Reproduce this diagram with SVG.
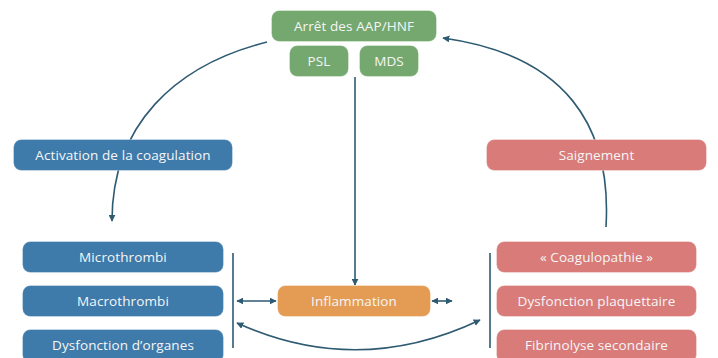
<svg xmlns="http://www.w3.org/2000/svg" width="718" height="358" viewBox="0 0 718 358">
  <defs>
    <marker id="arrow" viewBox="0 0 10 10" refX="9" refY="5" markerWidth="7" markerHeight="7" markerUnits="userSpaceOnUse" orient="auto-start-reverse">
      <path d="M0,0 L10,5 L0,10 z" fill="#2e5a72"/>
    </marker>
    <style>
      .box { stroke: #ffffff; stroke-opacity: 0.35; stroke-width: 1; }
      .green { fill: #74a86f; }
      .blue { fill: #3e7aaa; }
      .orange { fill: #e49c55; }
      .red { fill: #d87b79; }
      .lbl { font-family: "Open Sans", "Liberation Sans", sans-serif; font-size: 13.5px; letter-spacing: 0.1px; fill: #f6f6f6; text-anchor: middle; }
      .wire { fill: none; stroke: #2e5a72; stroke-width: 1.6; }
    </style>
  </defs>
  <rect width="718" height="358" fill="#ffffff"/>

  <!-- connectors, drawn beneath the nodes -->
  <g id="connectors">
    <path class="wire" d="M267,42 C175,65 112,125 112,221" marker-end="url(#arrow)"/>
    <path class="wire" d="M606,227 C612,125 565,55 443,38" marker-end="url(#arrow)"/>
    <path class="wire" d="M355,77 L355,285" marker-end="url(#arrow)"/>
    <path class="wire" d="M233,253 L233,348"/>
    <path class="wire" d="M490,253 L490,348"/>
    <path class="wire" d="M237,301 L276,301" marker-start="url(#arrow)" marker-end="url(#arrow)"/>
    <path class="wire" d="M432,301 L452,301" marker-start="url(#arrow)" marker-end="url(#arrow)"/>
    <path class="wire" d="M480,320 Q358,378 237,323" marker-start="url(#arrow)" marker-end="url(#arrow)"/>
  </g>

  <g id="arret">
    <rect class="box green" x="271.5" y="10.5" width="165" height="31" rx="8"/>
    <text class="lbl" x="354" y="30.5">Arrêt des AAP/HNF</text>
  </g>
  <g id="psl">
    <rect class="box green" x="289.5" y="45.5" width="59" height="31" rx="8"/>
    <text class="lbl" x="319" y="65.5">PSL</text>
  </g>
  <g id="mds">
    <rect class="box green" x="359.5" y="45.5" width="59" height="31" rx="8"/>
    <text class="lbl" x="389" y="65.5">MDS</text>
  </g>

  <g id="activation">
    <rect class="box blue" x="13.5" y="139.5" width="219" height="31" rx="8"/>
    <text class="lbl" x="123" y="159.5">Activation de la coagulation</text>
  </g>
  <g id="saignement">
    <rect class="box red" x="486.5" y="139.5" width="220" height="31" rx="8"/>
    <text class="lbl" x="596.5" y="159.5">Saignement</text>
  </g>

  <g id="microthrombi">
    <rect class="box blue" x="22.5" y="241.5" width="201" height="31" rx="8"/>
    <text class="lbl" x="123" y="261.5">Microthrombi</text>
  </g>
  <g id="macrothrombi">
    <rect class="box blue" x="22.5" y="285.5" width="201" height="31" rx="8"/>
    <text class="lbl" x="123" y="305.5">Macrothrombi</text>
  </g>
  <g id="dysfonction-organes">
    <rect class="box blue" x="22.5" y="329.5" width="201" height="33" rx="8"/>
    <text class="lbl" x="123" y="350">Dysfonction d’organes</text>
  </g>

  <g id="inflammation">
    <rect class="box orange" x="277.5" y="285.5" width="153" height="31" rx="8"/>
    <text class="lbl" x="354" y="305.5">Inflammation</text>
  </g>

  <g id="coagulopathie">
    <rect class="box red" x="496.5" y="241.5" width="200" height="31" rx="8"/>
    <text class="lbl" x="596.5" y="261.5">« Coagulopathie »</text>
  </g>
  <g id="dysfonction-plaquettaire">
    <rect class="box red" x="496.5" y="285.5" width="200" height="31" rx="8"/>
    <text class="lbl" x="596.5" y="305.5">Dysfonction plaquettaire</text>
  </g>
  <g id="fibrinolyse">
    <rect class="box red" x="496.5" y="329.5" width="200" height="33" rx="8"/>
    <text class="lbl" x="596.5" y="350">Fibrinolyse secondaire</text>
  </g>
</svg>
